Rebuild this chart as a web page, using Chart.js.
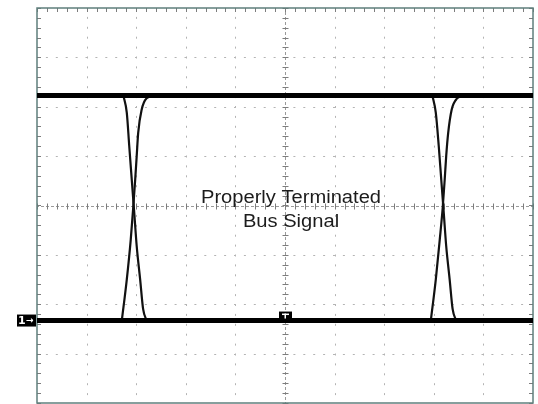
<!DOCTYPE html>
<html>
<head>
<meta charset="utf-8">
<script src="https://cdn.jsdelivr.net/npm/chart.js@4.4.1/dist/chart.umd.min.js"></script>
<style>
  html, body { margin: 0; padding: 0; background: #fff; }
  #wrap { width: 538px; height: 404px; }
</style>
</head>
<body>
<div id="wrap"><canvas id="scope" width="538" height="404"></canvas></div>
<script>
// time axis in divisions, volts axis in divisions
const timeDivs = [0, 1, 2, 3, 4, 5, 6, 7, 8, 9, 10];
const voltDivs = [-4, -3, -2, -1, 0, 1, 2, 3, 4];
const levelSpan = [0, 10];
const highLevel = 2.23;
const lowLevel = -2.33;

// edges, [time, volts]
const rise1 = [[1.71, -2.33], [1.81, -1.50], [1.89, -0.69], [1.94, -0.04], [1.98, 0.53], [2.01, 1.00], [2.04, 1.47], [2.11, 1.94], [2.21, 2.17], [2.35, 2.22], [2.62, 2.23]];
const fall1 = [[1.74, 2.23], [1.81, 1.88], [1.86, 1.20], [1.91, 0.53], [1.96, -0.14], [2.01, -0.82], [2.08, -1.50], [2.14, -2.10], [2.21, -2.33]];
const rise2 = [[7.94, -2.33], [8.04, -1.50], [8.12, -0.69], [8.18, -0.04], [8.22, 0.53], [8.25, 1.00], [8.29, 1.47], [8.36, 1.94], [8.47, 2.17], [8.60, 2.22], [8.88, 2.23]];
const fall2 = [[7.97, 2.23], [8.04, 1.88], [8.10, 1.20], [8.15, 0.53], [8.20, -0.14], [8.25, -0.82], [8.32, -1.50], [8.38, -2.10], [8.45, -2.33]];

const labelLines = ['Properly Terminated', 'Bus Signal'];

const toPts = arr => arr.map(p => ({ x: p[0], y: p[1] }));

function edge(data) {
  return {
    data: toPts(data),
    borderColor: '#111',
    borderWidth: 2.2,
    pointRadius: 0,
    showLine: true,
    cubicInterpolationMode: 'monotone'
  };
}

function level(v) {
  return {
    data: levelSpan.map(t => ({ x: t, y: v })),
    borderColor: '#000',
    borderWidth: 5,
    pointRadius: 0,
    showLine: true
  };
}

// scope graticule: dotted divisions, ticked centre lines and frame
const graticule = {
  id: 'graticule',
  beforeDatasetsDraw(chart) {
    const { ctx, chartArea: a, scales: { x, y } } = chart;
    ctx.save();
    ctx.lineWidth = 1;

    ctx.strokeStyle = '#b4b4b4';
    ctx.setLineDash([2, 7.9]);
    timeDivs.forEach(t => {
      if (t === 0 || t === 5 || t === 10) return;
      const px = Math.round(x.getPixelForValue(t)) + 0.5;
      ctx.lineDashOffset = 1;
      ctx.beginPath(); ctx.moveTo(px, a.top); ctx.lineTo(px, a.bottom); ctx.stroke();
    });
    voltDivs.forEach(v => {
      if (v === 0 || v === -4 || v === 4) return;
      const py = Math.round(y.getPixelForValue(v)) + 0.5;
      ctx.lineDashOffset = 1;
      ctx.beginPath(); ctx.moveTo(a.left, py); ctx.lineTo(a.right, py); ctx.stroke();
    });

    // centre lines
    const cx = Math.round(x.getPixelForValue(5)) + 0.5;
    const cy = Math.round(y.getPixelForValue(0)) + 0.5;
    ctx.strokeStyle = '#9a9a9a';
    ctx.setLineDash([3, 2]);
    ctx.beginPath(); ctx.moveTo(a.left, cy); ctx.lineTo(a.right, cy); ctx.stroke();
    ctx.beginPath(); ctx.moveTo(cx, a.top); ctx.lineTo(cx, a.bottom); ctx.stroke();
    ctx.setLineDash([]);
    ctx.strokeStyle = '#7d7d7d';
    for (let t = 0; t <= 10.001; t += 0.2) {
      const px = Math.round(x.getPixelForValue(t)) + 0.5;
      ctx.beginPath(); ctx.moveTo(px, cy - 3); ctx.lineTo(px, cy + 3); ctx.stroke();
      ctx.beginPath(); ctx.moveTo(px, a.top); ctx.lineTo(px, a.top + 4); ctx.stroke();
    }
    for (let v = -4; v <= 4.001; v += 0.2) {
      const py = Math.round(y.getPixelForValue(v)) + 0.5;
      ctx.beginPath(); ctx.moveTo(cx - 3, py); ctx.lineTo(cx + 3, py); ctx.stroke();
      ctx.beginPath(); ctx.moveTo(a.left, py); ctx.lineTo(a.left + 4, py); ctx.stroke();
      ctx.beginPath(); ctx.moveTo(a.right - 4, py); ctx.lineTo(a.right, py); ctx.stroke();
    }

    // frame
    ctx.strokeStyle = '#5f7f7c';
    ctx.lineWidth = 1.5;
    ctx.strokeRect(a.left, a.top, a.right - a.left, a.bottom - a.top);
    ctx.restore();
  },
  afterDatasetsDraw(chart) {
    const { ctx, scales: { x, y } } = chart;
    ctx.save();
    const gy = y.getPixelForValue(lowLevel);

    // channel 1 ground marker
    ctx.fillStyle = '#000';
    ctx.fillRect(17, gy - 6, 19, 12);
    ctx.fillStyle = '#fff';
    ctx.font = 'bold 11px "DejaVu Sans", sans-serif';
    ctx.textAlign = 'left';
    ctx.textBaseline = 'middle';
    ctx.fillText('1', 18, gy + 0.5);
    ctx.font = 'bold 9px "DejaVu Sans", sans-serif';
    ctx.fillText('\u2192', 26, gy + 0.5);

    // trigger position marker
    const tx = x.getPixelForValue(5);
    ctx.fillStyle = '#000';
    ctx.fillRect(tx - 6, gy - 9, 13, 8);
    ctx.fillStyle = '#fff';
    ctx.fillRect(tx - 3, gy - 7, 7, 1.5);
    ctx.fillRect(tx - 0.5, gy - 7, 1.5, 5);

    // annotation
    ctx.fillStyle = '#1c1c1c';
    ctx.font = '17.5px "Liberation Sans", Arial, sans-serif';
    ctx.textAlign = 'center';
    ctx.textBaseline = 'alphabetic';
    const baselines = [203, 227];
    labelLines.forEach((s, i) => {
      ctx.save();
      ctx.translate(291, baselines[i]);
      ctx.scale(1.15, 1);
      ctx.fillText(s, 0, 0);
      ctx.restore();
    });
    ctx.restore();
  }
};

new Chart(document.getElementById('scope'), {
  type: 'scatter',
  data: {
    datasets: [
      level(highLevel),
      level(lowLevel),
      edge(rise1),
      edge(fall1),
      edge(rise2),
      edge(fall2)
    ]
  },
  options: {
    responsive: false,
    animation: false,
    devicePixelRatio: 1,
    layout: { padding: { left: 37, right: 5, top: 8, bottom: 1 } },
    scales: {
      x: { type: 'linear', min: 0, max: 10, display: false },
      y: { type: 'linear', min: -4, max: 4, display: false }
    },
    plugins: {
      legend: { display: false },
      tooltip: { enabled: false }
    }
  },
  plugins: [graticule]
});
</script>
</body>
</html>
